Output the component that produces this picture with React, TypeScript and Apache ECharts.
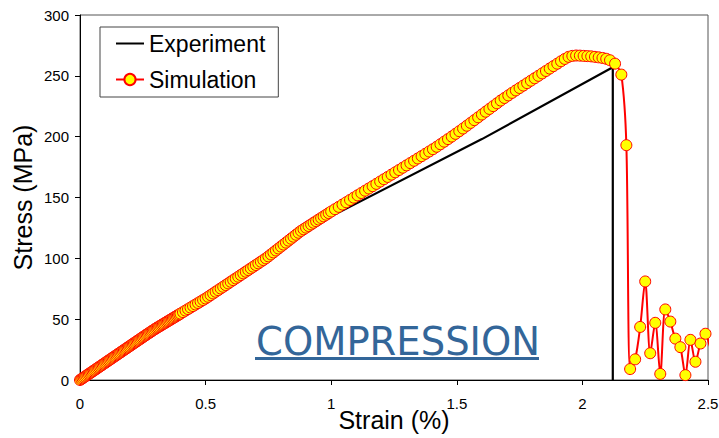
import React, { useEffect, useRef } from "react";
import * as echarts from "echarts";

const xTicks = { min: 0, max: 2.5, interval: 0.5 };
const yTicks = { min: 0, max: 300, interval: 50 };

const expStrain = [0, 0.5, 1.0, 1.6, 2.121, 2.121];
const expStress = [0, 67, 134.5, 198, 257, 0];

const simStrain = [
  0, 0.005, 0.01, 0.015, 0.02, 0.025, 0.03, 0.035, 0.04, 0.045,
  0.05, 0.055, 0.06, 0.065, 0.07, 0.075, 0.08, 0.085, 0.09, 0.095,
  0.1, 0.105, 0.11, 0.115, 0.12, 0.125, 0.13, 0.135, 0.14, 0.145,
  0.15, 0.155, 0.16, 0.165, 0.17, 0.175, 0.18, 0.185, 0.19, 0.195,
  0.2, 0.205, 0.21, 0.215, 0.22, 0.225, 0.23, 0.235, 0.24, 0.245,
  0.25, 0.255, 0.26, 0.265, 0.27, 0.275, 0.28, 0.285, 0.29, 0.295,
  0.3, 0.305, 0.31, 0.315, 0.32, 0.325, 0.33, 0.335, 0.34, 0.345,
  0.35, 0.355, 0.36, 0.365, 0.37, 0.375, 0.38, 0.385, 0.39, 0.395,
  0.4, 0.41, 0.42, 0.43, 0.44, 0.45, 0.46, 0.47, 0.48, 0.49,
  0.5, 0.51, 0.52, 0.53, 0.54, 0.55, 0.56, 0.57, 0.58, 0.59,
  0.6, 0.61, 0.62, 0.63, 0.64, 0.65, 0.66, 0.67, 0.68, 0.69,
  0.7, 0.71, 0.72, 0.73, 0.74, 0.75, 0.76, 0.77, 0.78, 0.79,
  0.8, 0.81, 0.82, 0.83, 0.84, 0.85, 0.86, 0.87, 0.88, 0.89,
  0.9, 0.91, 0.92, 0.93, 0.94, 0.95, 0.96, 0.97, 0.98, 0.99,
  1.0, 1.015, 1.03, 1.045, 1.06, 1.075, 1.09, 1.105, 1.12, 1.135,
  1.15, 1.165, 1.18, 1.195, 1.21, 1.225, 1.24, 1.255, 1.27, 1.285,
  1.3, 1.315, 1.33, 1.345, 1.36, 1.375, 1.39, 1.405, 1.42, 1.435,
  1.45, 1.465, 1.48, 1.495, 1.51, 1.525, 1.54, 1.555, 1.57, 1.585,
  1.6, 1.615, 1.63, 1.645, 1.66, 1.675, 1.69, 1.705, 1.72, 1.735,
  1.75, 1.765, 1.78, 1.795, 1.81, 1.825, 1.84, 1.855, 1.87, 1.885,
  1.9, 1.915, 1.93, 1.945, 1.96, 1.975, 1.99, 2.005, 2.02, 2.035,
  2.05, 2.065, 2.08, 2.095, 2.11, 2.13, 2.155, 2.175, 2.19, 2.21,
  2.23, 2.25, 2.27, 2.29, 2.31, 2.33, 2.35, 2.37, 2.39, 2.41,
  2.43, 2.45, 2.47, 2.49, 2.51, 2.533,
];
const simStress = [
  0, 0.7, 1.41, 2.11, 2.82, 3.52, 4.23, 4.93, 5.63, 6.34,
  7.04, 7.75, 8.45, 9.16, 9.86, 10.56, 11.27, 11.97, 12.68, 13.38,
  14.08, 14.79, 15.49, 16.2, 16.9, 17.6, 18.31, 19.01, 19.72, 20.42,
  21.13, 21.83, 22.53, 23.24, 23.94, 24.65, 25.35, 26.05, 26.76, 27.46,
  28.17, 28.87, 29.58, 30.28, 30.98, 31.69, 32.39, 33.1, 33.8, 34.5,
  35.21, 35.91, 36.62, 37.31, 37.99, 38.68, 39.36, 40.05, 40.73, 41.42,
  42.1, 42.72, 43.35, 43.97, 44.59, 45.21, 45.84, 46.46, 47.08, 47.7,
  48.33, 48.95, 49.57, 50.19, 50.82, 51.44, 52.06, 52.68, 53.31, 53.93,
  54.55, 55.8, 57.04, 58.29, 59.53, 60.78, 62.02, 63.27, 64.51, 65.76,
  67.0, 68.37, 69.75, 71.12, 72.5, 73.87, 75.24, 76.62, 77.99, 79.37,
  80.74, 82.11, 83.49, 84.86, 86.24, 87.61, 88.98, 90.36, 91.73, 93.11,
  94.48, 95.85, 97.23, 98.6, 99.98, 101.6, 103.21, 104.83, 106.44, 108.06,
  109.68, 111.29, 112.91, 114.53, 116.14, 117.76, 119.38, 120.99, 122.56, 123.89,
  125.22, 126.55, 127.87, 129.2, 130.53, 131.86, 133.19, 134.52, 135.84, 137.17,
  138.5, 140.4, 142.3, 144.2, 146.09, 147.99, 149.89, 151.79, 153.69, 155.59,
  157.43, 159.3, 161.2, 163.1, 165.0, 166.9, 168.8, 170.7, 172.6, 174.5,
  176.4, 178.3, 180.2, 182.1, 184.0, 185.9, 187.8, 189.7, 191.7, 193.8,
  195.9, 198.0, 200.1, 202.3, 204.5, 206.7, 209.0, 211.3, 213.6, 215.9,
  218.2, 220.5, 222.8, 225.1, 227.4, 229.7, 231.8, 233.9, 236.0, 238.0,
  240.0, 242.0, 244.0, 246.0, 248.0, 250.0, 252.0, 254.0, 256.0, 258.0,
  260.0, 262.0, 263.9, 265.6, 266.4, 266.7, 266.6, 266.4, 266.2, 266.0,
  265.6, 265.2, 264.7, 264.0, 262.8, 260.0, 251.0, 193.0, 9.0, 17.0,
  43.6, 81.0, 22.0, 47.0, 5.0, 58.0, 48.0, 34.0, 27.0, 4.0,
  33.0, 15.0, 30.0, 38.0, 26.5, 53.0,
];

const seriesNames = ["Experiment", "Simulation"];
const xTitle = "Strain (%)";
const yTitle = "Stress (MPa)";
const annotation = "COMPRESSION";

export default function App() {
  const ref = useRef<HTMLDivElement>(null);
  useEffect(() => {
    if (!ref.current) return;
    const chart = echarts.init(ref.current, null, { renderer: "svg" });
    const axisMax = xTicks.max;
    const simData = simStrain.map((x, i) =>
      x > axisMax
        ? { value: [x, simStress[i]], symbol: "none" }
        : { value: [x, simStress[i]] }
    );
    const expData = expStrain.map((x, i) => [x, expStress[i]]);
    const font = "'Liberation Sans', Arial, sans-serif";
    chart.setOption({
      animation: false,
      backgroundColor: "#ffffff",
      grid: {
        left: 80,
        right: 11,
        top: 15,
        bottom: 58,
        show: true,
        borderColor: "#555555",
        borderWidth: 1,
        containLabel: false,
        outerBoundsMode: "none",
      },
      legend: {
        orient: "vertical",
        left: 100,
        top: 27,
        padding: [5, 13, 6, 15],
        itemGap: 13,
        itemWidth: 28,
        itemHeight: 14,
        borderColor: "#444444",
        borderWidth: 1,
        backgroundColor: "#ffffff",
        textStyle: { fontFamily: font, fontSize: 23, color: "#000" },
        data: [
          { name: seriesNames[0], itemStyle: { opacity: 0 } },
          { name: seriesNames[1] },
        ],
      },
      xAxis: {
        type: "value",
        min: xTicks.min,
        max: xTicks.max,
        interval: xTicks.interval,
        name: xTitle,
        nameLocation: "middle",
        nameGap: 27,
        nameMoveOverlap: false,
        nameTextStyle: { fontFamily: font, fontSize: 25, color: "#000" },
        axisLine: { lineStyle: { color: "#000", width: 1 } },
        axisTick: { show: true, length: 5, lineStyle: { color: "#000" } },
        axisLabel: { fontFamily: font, fontSize: 15, color: "#000", margin: 16 },
        splitLine: { show: false },
      },
      yAxis: {
        type: "value",
        min: yTicks.min,
        max: yTicks.max,
        interval: yTicks.interval,
        name: yTitle,
        nameLocation: "middle",
        nameGap: 45,
        nameMoveOverlap: false,
        nameTextStyle: { fontFamily: font, fontSize: 25, color: "#000" },
        axisLine: { show: true, lineStyle: { color: "#000", width: 1 } },
        axisTick: { show: true, length: 5, lineStyle: { color: "#000" } },
        axisLabel: { fontFamily: font, fontSize: 15, color: "#000", margin: 11 },
        splitLine: { show: false },
      },
      graphic: [
        {
          type: "text",
          left: 256,
          top: 322,
          style: {
            text: annotation,
            fontFamily: "'DejaVu Sans', Verdana, sans-serif",
            fontSize: 38.5,
            fill: "#336699",
          },
          z: 10,
        },
        {
          type: "rect",
          shape: { x: 255, y: 357, width: 284, height: 3 },
          style: { fill: "#336699" },
          z: 10,
        },
      ],
      series: [
        {
          name: seriesNames[0],
          type: "line",
          data: expData,
          symbol: "none",
          lineStyle: { color: "#000000", width: 2.2 },
          itemStyle: { color: "#000000" },
          z: 2,
        },
        {
          name: seriesNames[1],
          type: "line",
          data: simData,
          symbol: "circle",
          symbolSize: 11,
          showAllSymbol: true,
          clip: false,
          smooth: 0.3,
          lineStyle: { color: "#ff0000", width: 2 },
          itemStyle: { color: "#ffff00", borderColor: "#ff0000", borderWidth: 1 },
          z: 3,
        },
      ],
    });
    return () => chart.dispose();
  }, []);
  return (
    <div
      ref={ref}
      style={{ position: "fixed", left: 0, top: 0, width: 719, height: 438 }}
    />
  );
}
